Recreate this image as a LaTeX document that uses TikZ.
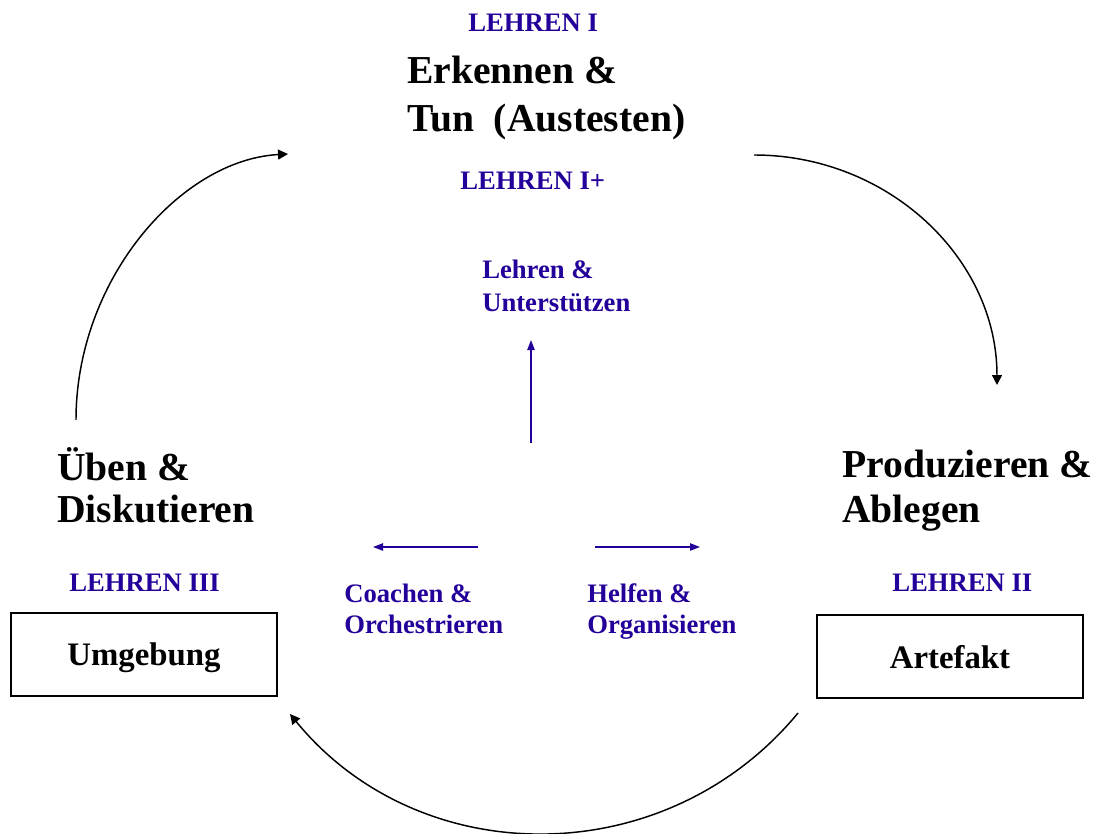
\documentclass[tikz,border=0pt]{standalone}
\usepackage{fontspec}
\setmainfont{Liberation Serif}
\usetikzlibrary{arrows.meta}

\definecolor{lehrblau}{RGB}{34,0,153}

\tikzset{
  gross/.style={font=\fontsize{29.7}{31.5}\selectfont\bfseries, align=left, anchor=base west, inner sep=0pt},
  lehren/.style={font=\fontsize{20}{24}\selectfont\bfseries, text=lehrblau, align=left, anchor=base west, inner sep=0pt},
  kasten/.style={draw, line width=1.2pt, minimum width=199.5pt, minimum height=62pt, inner sep=0pt, font=\fontsize{24.6}{28}\selectfont\bfseries, text depth=0pt},
  kreis/.style={line width=1.1pt, -{Triangle[length=7.5pt,width=7.5pt]}},
  pfeil/.style={draw=lehrblau, line width=1pt, -{Triangle[length=7.5pt,width=5.5pt]}}
}

\begin{document}
\begin{tikzpicture}[x=0.75pt,y=-0.75pt]
\useasboundingbox (0,0) rectangle (1096,834);

% oben (mehrzeilige Knoten sitzen auf der letzten Grundlinie)
\node (lehrenI) [lehren] at (468,32) {LEHREN I};
\node (erkennen) [gross] at (407,132) {Erkennen \&\\[4.5pt]Tun~~(Austesten)};
\node (lehrenIplus) [lehren] at (460,190) {LEHREN I+};

% mitte
\node (unterstuetzen) [lehren] at (482,311.5) {Lehren \&\\[0.75pt]Unterstützen};
\node (coachen) [lehren] at (344,633) {Coachen \&\\[-0.75pt]Orchestrieren};
\node (helfen) [lehren] at (587,633) {Helfen \&\\[-0.75pt]Organisieren};

% links
\node (ueben) [gross] at (57,522) {Üben \&\\Diskutieren};
\node (lehrenIII) [lehren] at (69,591) {LEHREN III};
\node (umgebung) [kasten] at (144,654.5) {Umgebung};

% rechts
\node (produzieren) [gross] at (842,522) {Produzieren \&\\[2.25pt]Ablegen};
\node (lehrenII) [lehren] at (892,591) {LEHREN II};
\node (artefakt) [kasten] at (950,656.5) {Artefakt};

\coordinate (oben-a) at (754,155);
\coordinate (oben-b) at (997,385);
\coordinate (unten-a) at (798,713);
\coordinate (unten-b) at (290,714);
\coordinate (links-a) at (76,420);
\coordinate (links-b) at (288,154);

\draw [kreis] (oben-a) .. controls (888,155) and (997,258) .. (oben-b);
\draw [kreis] (unten-a) .. controls (666,873) and (420,873) .. (unten-b);
\draw [kreis] (links-a) .. controls (76,280) and (180,160) .. (links-b);

\coordinate (hoch-a) at (531,443);
\coordinate (hoch-b) at (531,340);
\coordinate (li-a) at (478,547);
\coordinate (li-b) at (373,547);
\coordinate (re-a) at (595,547);
\coordinate (re-b) at (700,547);

\draw [pfeil] (hoch-a) -- (hoch-b);
\draw [pfeil] (li-a) -- (li-b);
\draw [pfeil] (re-a) -- (re-b);

\end{tikzpicture}
\end{document}
